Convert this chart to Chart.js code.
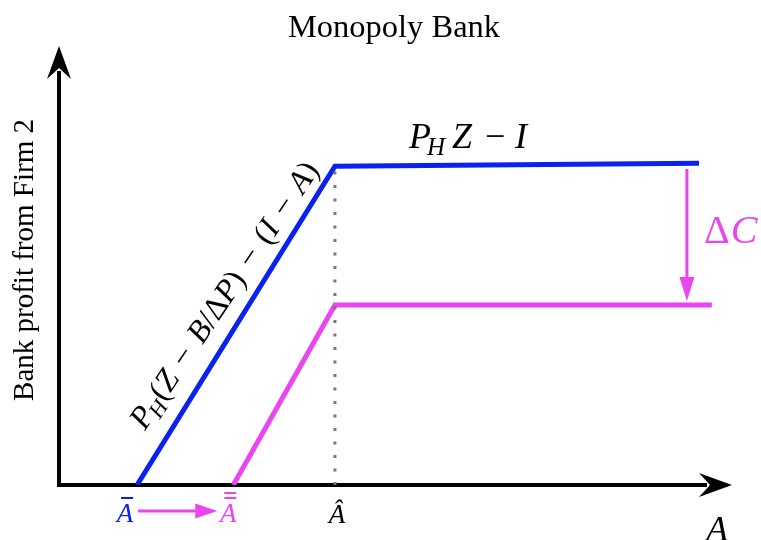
<!DOCTYPE html>
<html><head><meta charset="utf-8">
<script src="https://cdn.jsdelivr.net/npm/chart.js@4/dist/chart.umd.min.js"></script>
<style>html,body{margin:0;padding:0;background:#fff;overflow:hidden}</style>
</head><body>
<canvas id="c" width="761" height="540"></canvas>
<script>
// ---- data (axis units 0..100) ----
const blueX = [11.6, 41.0, 95.1];
const blueY = [0, 72.6, 73.3];
const magX  = [25.9, 41.0, 97.0];
const magY  = [0, 41.0, 41.0];
const hatX  = [41.0, 41.0];
const hatY  = [0, 72.6];
const dcX   = [93.3, 93.3];
const dcY   = [72.0, 41.9];
const titleText = 'Monopoly Bank';
const yTitleText = 'Bank profit from Firm 2';
const xTitleText = 'A';

const BLUE = '#0a22ee';
const MAG = '#ea45ee';
const SERIF = '"Liberation Serif", "DejaVu Serif", serif';

function pts(xs, ys){ return xs.map((x,i)=>({x:x, y:ys[i]})); }

function fancyHead(ctx, tipX, tipY, dir, len, half, notch, color){
  const [dx,dy] = dir;
  const px = -dy, py = dx;
  const bx = tipX - dx*len, by = tipY - dy*len;
  const nx = tipX - dx*notch, ny = tipY - dy*notch;
  ctx.save();
  ctx.fillStyle = color;
  ctx.beginPath();
  ctx.moveTo(tipX, tipY);
  ctx.lineTo(bx + px*half, by + py*half);
  ctx.lineTo(nx, ny);
  ctx.lineTo(bx - px*half, by - py*half);
  ctx.closePath();
  ctx.fill();
  ctx.restore();
}
function triHead(ctx, tipX, tipY, dir, len, half, color){
  fancyHead(ctx, tipX, tipY, dir, len, half, len, color);
}

const decor = {
  id: 'decor',
  beforeDatasetsDraw(chart){
    const ctx = chart.ctx, a = chart.chartArea;
    ctx.save();
    ctx.strokeStyle = '#000';
    ctx.lineWidth = 4;
    ctx.beginPath();
    ctx.moveTo(a.left, a.bottom);
    ctx.lineTo(a.right - 25, a.bottom);
    ctx.moveTo(a.left, a.bottom + 2);
    ctx.lineTo(a.left, a.top + 25);
    ctx.stroke();
    ctx.restore();
    fancyHead(ctx, a.right, a.bottom, [1,0], 33, 12, 22, '#000');
    fancyHead(ctx, a.left, a.top, [0,-1], 33, 12, 22, '#000');
  },
  afterDatasetsDraw(chart){
    const ctx = chart.ctx, a = chart.chartArea;
    const xs = chart.scales.x, ys = chart.scales.y;
    triHead(ctx, xs.getPixelForValue(dcX[1]), ys.getPixelForValue(dcY[1]), [0,1], 24, 7.5, MAG);

    ctx.save();
    ctx.textBaseline = 'alphabetic';
    // title
    ctx.fillStyle = '#000';
    ctx.font = '32.5px ' + SERIF;
    ctx.textAlign = 'center';
    ctx.fillText(titleText, 394, 37);
    // y title
    ctx.save();
    ctx.translate(33, 260);
    ctx.rotate(-Math.PI/2);
    ctx.font = '29px ' + SERIF;
    ctx.fillText(yTitleText, 0, 0);
    ctx.restore();
    // x title
    ctx.font = 'italic 36px ' + SERIF;
    ctx.fillText(xTitleText, 717, 541);

    // labels under x axis
    const base = a.bottom + 37;
    const xb = xs.getPixelForValue(blueX[0]);
    const xbb = xs.getPixelForValue(magX[0]);
    const xh = xs.getPixelForValue(hatX[0]);
    ctx.font = 'italic 27px ' + SERIF;
    ctx.textAlign = 'center';
    ctx.fillStyle = BLUE;
    ctx.fillText('A', xb - 12, base);
    ctx.fillRect(xb - 16, base - 25, 12, 2);
    ctx.fillStyle = MAG;
    ctx.fillText('A', xbb - 5, base);
    ctx.fillRect(xbb - 9, base - 30, 12, 2);
    ctx.fillRect(xbb - 9, base - 25, 12, 2);
    ctx.fillStyle = '#000';
    ctx.fillText('\u00C2', xh + 2, base + 1);
    // A-bar -> A-double-bar arrow
    ctx.strokeStyle = MAG;
    ctx.lineWidth = 3;
    ctx.beginPath();
    ctx.moveTo(xb + 1, base - 11);
    ctx.lineTo(xbb - 36, base - 11);
    ctx.stroke();
    triHead(ctx, xbb - 16, base - 11, [1,0], 22, 7.5, MAG);

    // Delta C label
    ctx.fillStyle = MAG;
    ctx.textAlign = 'left';
    ctx.font = '40px ' + SERIF;
    ctx.fillText('\u0394', 704, 243);
    const wD = ctx.measureText('\u0394').width;
    ctx.font = 'italic 40px ' + SERIF;
    ctx.fillText('C', 704 + wD + 1, 243);

    // P_H Z - I
    ctx.fillStyle = '#000';
    ctx.font = 'italic 36px ' + SERIF;
    ctx.fillText('P', 409, 148);
    ctx.font = 'italic 25px ' + SERIF;
    ctx.fillText('H', 427, 155);
    ctx.font = 'italic 36px ' + SERIF;
    ctx.fillText('Z', 452, 148);
    ctx.font = '36px ' + SERIF;
    ctx.fillText('\u2212', 485, 148);
    ctx.font = 'italic 36px ' + SERIF;
    ctx.fillText('I', 515, 148);

    // rotated label along blue rising segment
    const p0x = xs.getPixelForValue(blueX[0]), p0y = ys.getPixelForValue(blueY[0]);
    const p1x = xs.getPixelForValue(blueX[1]), p1y = ys.getPixelForValue(blueY[1]);
    const ang = Math.atan2(p1y - p0y, p1x - p0x) + 0.035;
    ctx.save();
    ctx.translate(145, 431);
    ctx.rotate(ang);
    let t = 0;
    const F = 32;
    const seg = (txt, it, size, dy) => {
      ctx.font = (it ? 'italic ' : '') + size + 'px ' + SERIF;
      ctx.fillText(txt, t, dy);
      t += ctx.measureText(txt).width;
    };
    const minus = () => { t += 3; seg(' \u2212 ', false, F, 0); t += 3; };
    seg('P', true, F, 0); t -= 2;
    seg('H', true, F*0.7, 6); t += 1;
    seg('(', false, F, 0);
    seg('Z', true, F, 0);
    minus();
    seg('B', true, F, 0);
    seg('/', false, F, 0);
    seg('\u0394', false, F, 0);
    seg('P', true, F, 0);
    seg(')', false, F, 0);
    minus();
    seg('(', false, F, 0);
    seg('I', true, F, 0);
    minus();
    seg('A', true, F, 0);
    seg(')', false, F, 0);
    ctx.restore();

    ctx.restore();
  }
};

new Chart(document.getElementById('c'), {
  type: 'line',
  data: {
    datasets: [
      { data: pts(hatX, hatY), borderColor: '#777', borderWidth: 3, borderDash: [3, 10.5], pointRadius: 0 },
      { data: pts(blueX, blueY), borderColor: BLUE, borderWidth: 5, pointRadius: 0, borderJoinStyle: 'miter' },
      { data: pts(magX, magY), borderColor: MAG, borderWidth: 5, pointRadius: 0, borderJoinStyle: 'miter' },
      { data: pts(dcX, [dcY[0], dcY[1] + 4]), borderColor: MAG, borderWidth: 3, pointRadius: 0 }
    ]
  },
  options: {
    responsive: false,
    animation: false,
    layout: { padding: { left: 59, right: 29, top: 46, bottom: 55 } },
    scales: {
      x: { type: 'linear', min: 0, max: 100, display: false },
      y: { type: 'linear', min: 0, max: 100, display: false }
    },
    plugins: { legend: { display: false }, tooltip: { enabled: false }, title: { display: false } },
    elements: { line: { tension: 0, fill: false } }
  },
  plugins: [decor]
});
</script>
</body></html>
